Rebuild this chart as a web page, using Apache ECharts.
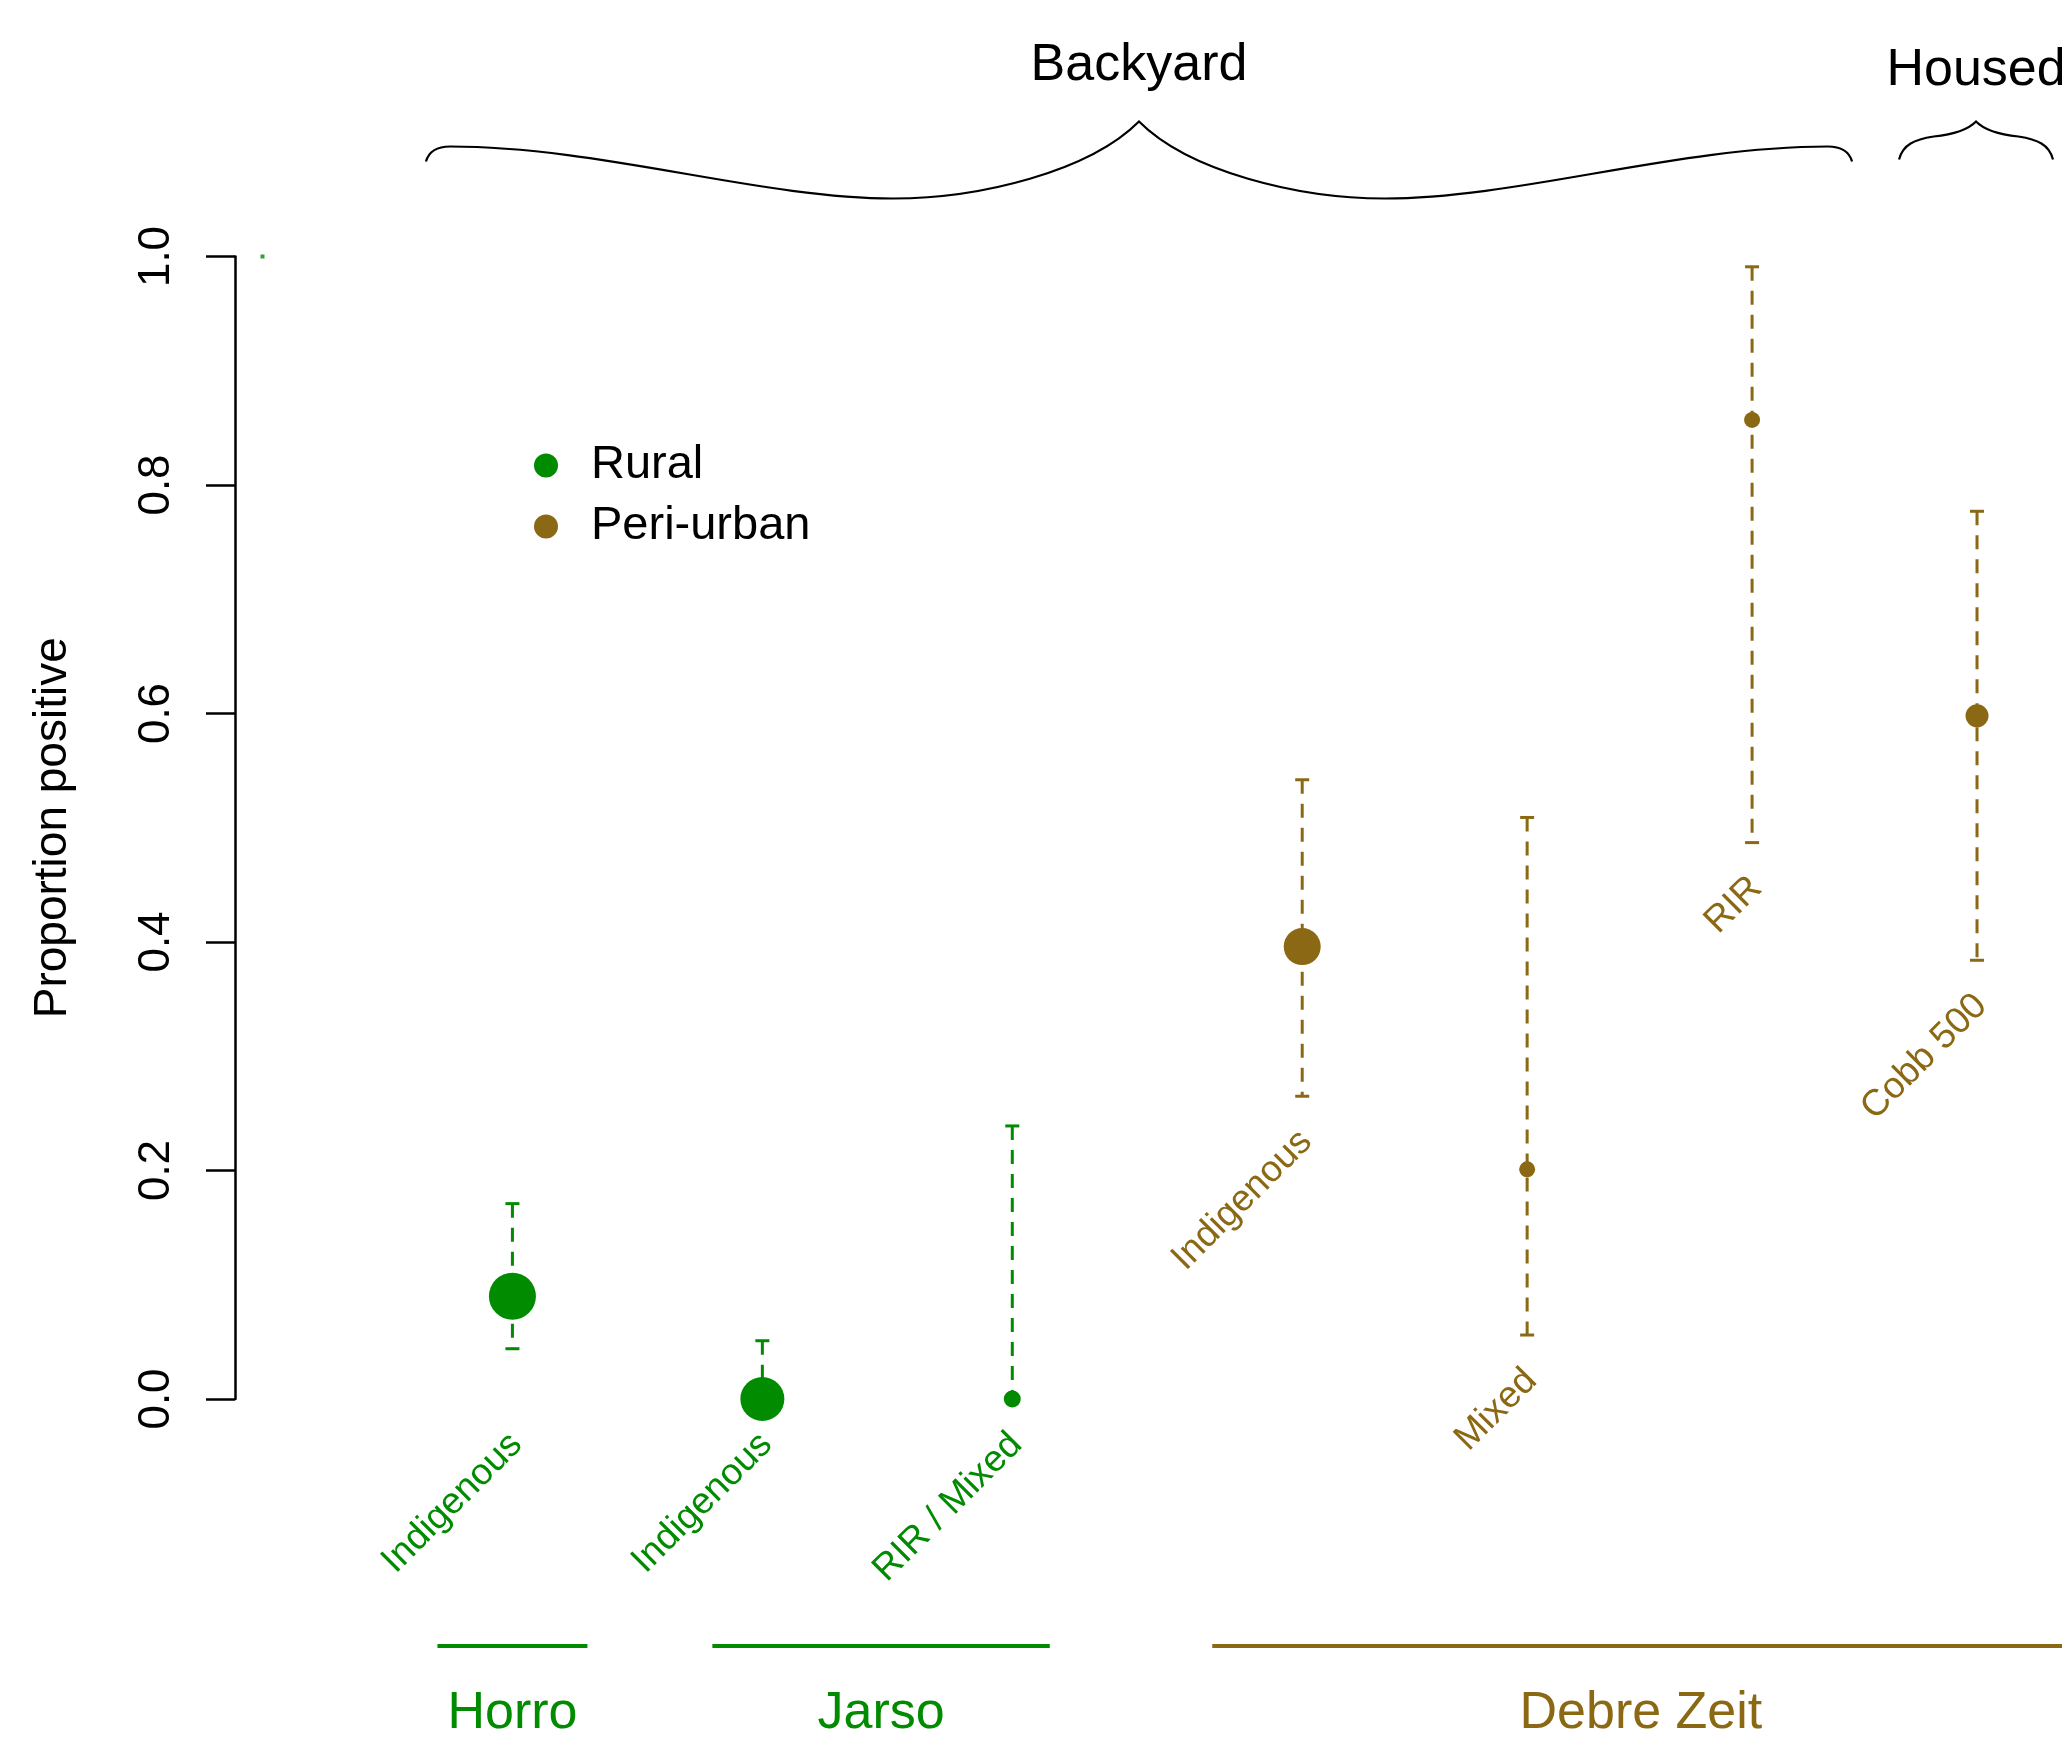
<!DOCTYPE html>
<html><head><meta charset="utf-8">
<script src="https://cdn.jsdelivr.net/npm/echarts@6/dist/echarts.min.js"></script>
<style>html,body{margin:0;padding:0;background:#fff}#c{width:2062px;height:1737px}</style>
</head><body><div id="c"></div>
<script>
// ---- data ----
const categories = ['Indigenous', 'Indigenous', 'RIR / Mixed', 'Indigenous', 'Mixed', 'RIR', 'Cobb 500'];
const locations  = ['Horro', 'Jarso', 'Jarso', 'Debre Zeit', 'Debre Zeit', 'Debre Zeit', 'Debre Zeit'];
const settings   = ['Rural', 'Rural', 'Rural', 'Peri-urban', 'Peri-urban', 'Peri-urban', 'Peri-urban'];
const xPos       = [1, 2, 3, 4.16, 5.06, 5.96, 6.86];
const proportion = [0.090, 0.000, 0.000, 0.396, 0.201, 0.857, 0.598];
const lowerCI    = [0.044, 0.000, 0.000, 0.265, 0.056, 0.487, 0.384];
const upperCI    = [0.171, 0.051, 0.239, 0.542, 0.509, 0.991, 0.777];
const yTicks     = [0, 0.2, 0.4, 0.6, 0.8, 1.0];
const groupNames = ['Horro', 'Jarso', 'Debre Zeit'];
const groupFrom  = [0.7, 1.8, 3.8];
const groupTo    = [1.3, 3.15, 7.23];
const braceNames = ['Backyard', 'Housed'];
const braceFrom  = [0.654, 6.548];
const braceTo    = [6.36, 7.164];

// ---- styles ----
const FONT = '"Liberation Sans", Arial, Helvetica, sans-serif';
const GREEN = '#008B00', BROWN = '#8B6914';
const colorOf = s => s === 'Rural' ? GREEN : BROWN;
const symbolSizes = [47, 44, 17, 37, 16, 16, 23];

const chart = echarts.init(document.getElementById('c'), null, { renderer: 'canvas' });

function pointsFor(setting) {
  const out = [];
  categories.forEach((c, i) => {
    if (settings[i] === setting) out.push({ value: [xPos[i], proportion[i]], symbolSize: symbolSizes[i] });
  });
  return out;
}

function errRender(params, api) {
  const i = api.value(3);
  const x = api.value(0);
  const lo = api.coord([x, api.value(1)]);
  const hi = api.coord([x, api.value(2)]);
  const color = colorOf(settings[i]);
  const cap = 7;
  return { type: 'group', children: [
    { type: 'line', shape: { x1: hi[0], y1: hi[1], x2: lo[0], y2: lo[1] }, style: { stroke: color, lineWidth: 3, lineDash: [14, 10] } },
    { type: 'line', shape: { x1: hi[0] - cap, y1: hi[1], x2: hi[0] + cap, y2: hi[1] }, style: { stroke: color, lineWidth: 3 } },
    { type: 'line', shape: { x1: lo[0] - cap, y1: lo[1], x2: lo[0] + cap, y2: lo[1] }, style: { stroke: color, lineWidth: 3 } }
  ]};
}

function catLabelRender(params, api) {
  const i = api.value(2);
  const p = api.coord([api.value(0), api.value(1)]);
  return { type: 'text', x: p[0] + 4, y: p[1], rotation: Math.PI / 4,
    style: { text: categories[i], fill: colorOf(settings[i]), fontSize: 37, fontFamily: FONT, align: 'right', verticalAlign: 'middle' } };
}

function groupRender(params, api) {
  const i = api.value(2);
  const a = api.coord([api.value(0), 0]);
  const b = api.coord([api.value(1), 0]);
  const setting = settings[locations.indexOf(groupNames[i])];
  const color = colorOf(setting);
  const yLine = a[1] + 247, yText = a[1] + 315;
  return { type: 'group', children: [
    { type: 'line', shape: { x1: a[0], y1: yLine, x2: b[0], y2: yLine }, style: { stroke: color, lineWidth: 4 } },
    { type: 'text', x: (a[0] + b[0]) / 2, y: yText,
      style: { text: groupNames[i], fill: color, fontSize: 52, fontFamily: FONT, align: 'center', verticalAlign: 'middle' } }
  ]};
}

function braceRender(params, api) {
  const i = api.value(2);
  const top = api.coord([0, 1])[1];
  const x1 = api.coord([api.value(0), 1])[0];
  const x2 = api.coord([api.value(1), 1])[0];
  const h = (x2 - x1) / 2, mid = (x1 + x2) / 2;
  let d, textY;
  if (h > 200) {
    const yE = top - 95, yF = top - 110, yV = top - 58, yP = top - 135, yC = top - 85;
    d = `M${x1},${yE} Q${x1 + 0.006 * h},${yF} ${x1 + 0.034 * h},${yF} ` +
        `C${x1 + 0.245 * h},${yF} ${x1 + 0.469 * h},${yV} ${x1 + 0.655 * h},${yV} ` +
        `C${x1 + 0.777 * h},${yV} ${x1 + 0.93 * h},${yC} ${mid},${yP} ` +
        `C${x2 - 0.93 * h},${yC} ${x2 - 0.777 * h},${yV} ${x2 - 0.655 * h},${yV} ` +
        `C${x2 - 0.469 * h},${yV} ${x2 - 0.245 * h},${yF} ${x2 - 0.034 * h},${yF} ` +
        `Q${x2 - 0.006 * h},${yF} ${x2},${yE}`;
    textY = top - 191;
  } else {
    const yE = top - 97, yF = top - 120, yP = top - 135, yQ = top - 127;
    d = `M${x1},${yE} C${x1 + 0.05 * h},${top - 112} ${x1 + 0.2 * h},${top - 117} ${x1 + 0.45 * h},${yF} ` +
        `C${x1 + 0.7 * h},${top - 122} ${x1 + 0.9 * h},${yQ} ${mid},${yP} ` +
        `C${x2 - 0.9 * h},${yQ} ${x2 - 0.7 * h},${top - 122} ${x2 - 0.45 * h},${yF} ` +
        `C${x2 - 0.2 * h},${top - 117} ${x2 - 0.05 * h},${top - 112} ${x2},${yE}`;
    textY = top - 186;
  }
  return { type: 'group', children: [
    { type: 'path', shape: { pathData: d }, style: { stroke: '#000', fill: null, lineWidth: 2.2 } },
    { type: 'text', x: mid, y: textY,
      style: { text: braceNames[i], fill: '#000', fontSize: 52, fontFamily: FONT, align: 'center', verticalAlign: 'middle' } }
  ]};
}

const option = {
  backgroundColor: '#fff',
  animation: false,
  grid: { left: 235, right: 0, top: 256.5, bottom: 338, containLabel: false },
  legend: {
    data: ['Rural', 'Peri-urban'], orient: 'vertical', left: 529, top: 435,
    icon: 'circle', itemWidth: 24, itemHeight: 24, itemGap: 10,
    textStyle: { fontSize: 47, fontFamily: FONT, color: '#000', lineHeight: 47, padding: [4, 0, 0, 28] }
  },
  xAxis: { type: 'value', min: -0.11, max: 7.2, show: false },
  yAxis: {
    type: 'value', min: 0, max: 1, interval: 0.2,
    name: 'Proportion positive', nameLocation: 'middle', nameGap: 159,
    nameTextStyle: { fontSize: 46, fontFamily: FONT, color: '#000' },
    axisLine: { show: true, onZero: false, lineStyle: { color: '#000', width: 2.5 } },
    axisTick: { show: true, length: 29, lineStyle: { color: '#000', width: 2.5 } },
    axisLabel: { rotate: 90, margin: 56, fontSize: 44, fontFamily: FONT, color: '#000',
      formatter: v => yTicks.some(t => Math.abs(t - v) < 1e-9) ? v.toFixed(1) : '' },
    splitLine: { show: false }
  },
  series: [
    { type: 'custom', name: 'ci', renderItem: errRender, z: 2,
      data: categories.map((c, i) => [xPos[i], lowerCI[i], upperCI[i], i]) },
    { type: 'scatter', name: 'Rural', data: pointsFor('Rural'), itemStyle: { color: GREEN, opacity: 1 }, symbol: 'circle', z: 5 },
    { type: 'scatter', name: 'Peri-urban', data: pointsFor('Peri-urban'), itemStyle: { color: BROWN, opacity: 1 }, symbol: 'circle', z: 5 },
    { type: 'scatter', name: 'origin', data: [[0, 1]], symbol: 'rect', symbolSize: 4, itemStyle: { color: GREEN }, z: 5 },
    { type: 'custom', name: 'catLabels', renderItem: catLabelRender, z: 3,
      data: categories.map((c, i) => [xPos[i], (settings[i] === 'Rural' ? 0 : lowerCI[i]) - 0.035, i]) },
    { type: 'custom', name: 'groups', renderItem: groupRender, z: 3,
      data: groupNames.map((g, i) => [groupFrom[i], groupTo[i], i]) },
    { type: 'custom', name: 'braces', renderItem: braceRender, z: 3,
      data: braceNames.map((b, i) => [braceFrom[i], braceTo[i], i]) }
  ]
};
chart.setOption(option);
</script></body></html>
